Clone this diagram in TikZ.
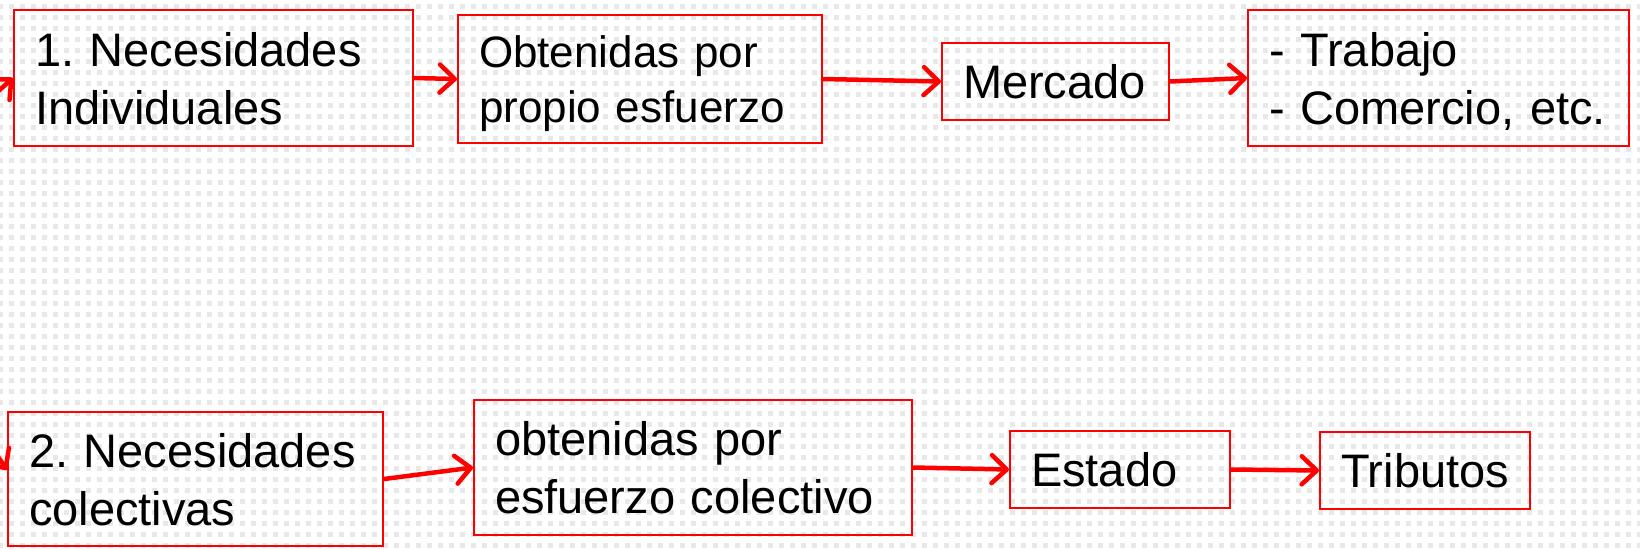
\documentclass[tikz,border=0pt]{standalone}
\usepackage{fontspec}
\setmainfont{Liberation Sans}
\usetikzlibrary{arrows.meta}
\definecolor{rojo}{RGB}{255,0,0}
\frenchspacing
\tikzset{
  caja/.style={draw=rojo, line width=2pt, inner xsep=0pt, inner ysep=0pt,
    align=left, text height=34pt, text depth=0pt,
    font=\fontsize{47}{58}\selectfont},
  dos/.style={text depth=58pt},
  flecha/.style={draw=rojo, line width=4.5pt,
    -{Straight Barb[round, length=15pt, width=28pt]}},
  puntos/.style={draw=black!9, line width=5pt, dash pattern=on 5pt off 6pt}
}

\begin{document}
\begin{tikzpicture}[x=1pt, y=-1pt]
  % fondo punteado
  \useasboundingbox (0,0) rectangle (1640,549);
  \fill[white] (0,0) rectangle (1640,549);
  \foreach \y in {6,17,...,549}
    \draw[puntos] (-2,\y) -- (1640,\y);
  \clip (0,0) rectangle (1640,549);

  % fila 1
  \node[caja, dos, minimum width=399pt, minimum height=136pt, text width=357pt]
    (n1) at (213.5,78) {\mbox{1. Necesidades}\\ \mbox{Individuales}};
  \node[caja, minimum width=364pt, minimum height=128pt, text width=322pt,
        font=\fontsize{44}{55}\selectfont, text height=32pt, text depth=55pt]
    (n2) at (640,79) {\mbox{Obtenidas por}\\ \mbox{propio esfuerzo}};
  \node[caja, minimum width=227pt, minimum height=77pt, text width=185pt]
    (n3) at (1055.5,81.5) {Mercado};
  \node[caja, dos, minimum width=381pt, minimum height=136pt, text width=339pt]
    (n4) at (1438.5,78) {\mbox{- Trabajo}\\ \mbox{- Comercio, etc.}};

  % fila 2
  \node[caja, dos, minimum width=375pt, minimum height=134pt, text width=333pt]
    (m1) at (195.5,479) {\mbox{2. Necesidades}\\ \mbox{colectivas}};
  \node[caja, dos, minimum width=438pt, minimum height=135pt, text width=396pt]
    (m2) at (693,467.5) {\mbox{obtenidas por}\\ \mbox{esfuerzo colectivo}};
  \node[caja, minimum width=220pt, minimum height=77pt, text width=178pt]
    (m3) at (1120,469.5) {Estado};
  \node[caja, minimum width=210pt, minimum height=77pt, text width=168pt]
    (m4) at (1425,470.5) {Tributos};

  % flechas
  \coordinate (e1) at (-16,104);
  \coordinate (e2) at (-12,442);
  \draw[flecha] (e1) -- (n1.west);
  \draw[flecha] (e2) -- ([yshift=9pt]m1.west);
  \foreach \source/\dest in {n1/n2, n2/n3, n3/n4, m1/m2, m2/m3, m3/m4}
    \draw[flecha] (\source.east) -- (\dest.west);
\end{tikzpicture}
\end{document}
